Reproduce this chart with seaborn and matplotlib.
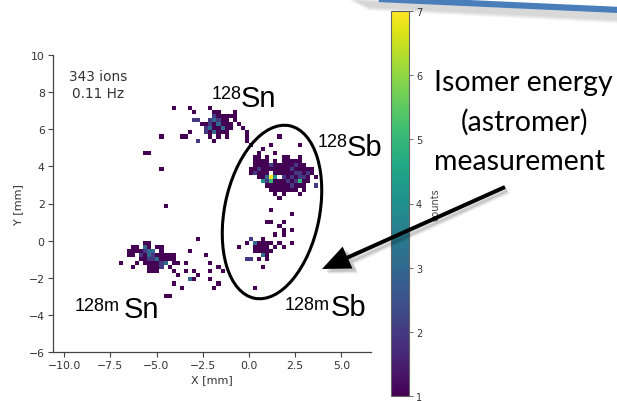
import matplotlib
matplotlib.use("Agg")
import matplotlib.pyplot as plt
import numpy as np
import pandas as pd
import seaborn as sns
from matplotlib.patches import Ellipse, FancyArrow

# ---------------- data: occupied 2D-histogram cells (centre in mm) and counts ----------------
# 128Sn spot (upper left)
sn128_x = [-4.07, -3.19, -2.09,
           -2.97, -1.87, -1.65, -0.77,
           -1.87, -1.65, -1.43, -1.21, -0.99, -0.77,
           -2.97, -2.75, -2.09, -1.87, -1.65, -1.43, -1.21, -0.77,
           -2.53, -2.31, -2.09, -1.87, -1.65, -1.43, -1.21, -0.99, -0.55,
           -2.31, -2.09, -1.87, -1.65, -1.43, -1.21, -0.99, -0.33,
           -3.19, -2.31, -2.09, -1.87, -1.65, -1.43, -1.21, -0.11,
           -3.63, -3.41, -2.09, -1.65, -1.21, -0.11,
           -2.75, -1.87, -0.11,
           0.11]
sn128_y = [7.15, 7.15, 7.15,
           6.93, 6.93, 6.93, 6.93,
           6.71, 6.71, 6.71, 6.71, 6.71, 6.71,
           6.49, 6.49, 6.49, 6.49, 6.49, 6.49, 6.49, 6.49,
           6.27, 6.27, 6.27, 6.27, 6.27, 6.27, 6.27, 6.27, 6.27,
           6.05, 6.05, 6.05, 6.05, 6.05, 6.05, 6.05, 6.05,
           5.83, 5.83, 5.83, 5.83, 5.83, 5.83, 5.83, 5.83,
           5.61, 5.61, 5.61, 5.61, 5.61, 5.61,
           5.39, 5.39, 5.39,
           5.17]
sn128_n = [1, 1, 1,
           1, 1, 1, 1,
           2, 1, 1, 1, 1, 1,
           2, 2, 2, 3, 2, 1, 1, 1,
           1, 1, 2, 1, 3, 1, 1, 1, 1,
           2, 3, 1, 1, 3, 1, 1, 1,
           1, 2, 1, 3, 1, 1, 1, 1,
           1, 1, 1, 1, 1, 1,
           2, 1, 1,
           1]

# 128Sb spot (upper right)
sb128_x = [1.65,
           1.21, 2.75,
           0.77,
           0.55, 1.43,
           0.33, 0.55, 0.99, 1.87, 2.09, 2.75,
           0.33, 0.55, 0.77, 0.99, 1.43, 1.87, 2.09, 2.31, 2.53, 2.75,
           0.33, 0.55, 0.77, 0.99, 1.21, 1.43, 1.65, 1.87, 2.09, 2.31, 2.53, 2.75, 2.97,
           0.11, 0.33, 0.55, 0.77, 0.99, 1.21, 1.43, 1.65, 1.87, 2.09, 2.31, 2.53, 2.75, 2.97, 3.19, 3.41,
           0.11, 0.33, 0.55, 0.77, 0.99, 1.43, 1.65, 1.87, 2.09, 2.31, 2.53, 2.75, 2.97, 3.19, 3.41,
           0.55, 0.77, 0.99, 1.21, 1.43, 1.87, 2.09, 2.31, 2.53, 2.75, 2.97, 3.19, 3.63,
           0.77, 0.99, 1.21, 1.43, 1.65, 1.87, 2.09, 2.31, 2.53, 2.75, 2.97, 3.19,
           0.99, 1.21, 1.43, 1.65, 1.87, 2.09, 2.31, 2.53, 2.75, 2.97, 3.63,
           1.21, 1.43, 1.65, 1.87, 2.09, 2.31, 2.53, 2.97,
           1.43, 1.87, 2.75,
           1.65]
sb128_y = [5.61,
           5.17, 5.17,
           4.95,
           4.73, 4.73,
           4.51, 4.51, 4.51, 4.51, 4.51, 4.51,
           4.29, 4.29, 4.29, 4.29, 4.29, 4.29, 4.29, 4.29, 4.29, 4.29,
           4.07, 4.07, 4.07, 4.07, 4.07, 4.07, 4.07, 4.07, 4.07, 4.07, 4.07, 4.07, 4.07,
           3.85, 3.85, 3.85, 3.85, 3.85, 3.85, 3.85, 3.85, 3.85, 3.85, 3.85, 3.85, 3.85, 3.85, 3.85, 3.85,
           3.63, 3.63, 3.63, 3.63, 3.63, 3.63, 3.63, 3.63, 3.63, 3.63, 3.63, 3.63, 3.63, 3.63, 3.63,
           3.41, 3.41, 3.41, 3.41, 3.41, 3.41, 3.41, 3.41, 3.41, 3.41, 3.41, 3.41, 3.41,
           3.19, 3.19, 3.19, 3.19, 3.19, 3.19, 3.19, 3.19, 3.19, 3.19, 3.19, 3.19,
           2.97, 2.97, 2.97, 2.97, 2.97, 2.97, 2.97, 2.97, 2.97, 2.97, 2.97,
           2.75, 2.75, 2.75, 2.75, 2.75, 2.75, 2.75, 2.75,
           2.53, 2.53, 2.53,
           2.31]
sb128_n = [1,
           1, 1,
           1,
           1, 1,
           1, 1, 1, 1, 1, 1,
           1, 1, 1, 1, 1, 1, 1, 1, 1, 1,
           1, 1, 1, 1, 2, 1, 1, 1, 1, 1, 2, 1, 1,
           1, 1, 2, 1, 1, 1, 1, 1, 1, 1, 2, 1, 1, 1, 1, 1,
           1, 2, 1, 1, 1, 1, 1, 1, 1, 1, 2, 2, 1, 2, 1,
           1, 1, 3, 7, 4, 2, 1, 2, 1, 2, 2, 1, 1,
           4, 2, 5, 1, 1, 1, 2, 1, 2, 5, 1, 1,
           1, 1, 1, 1, 1, 1, 2, 1, 1, 1, 2,
           1, 1, 1, 1, 1, 1, 1, 1,
           1, 1, 1,
           1]

# 128mSb spot (lower right)
sb128m_x = [1.21,
            2.31,
            0.99, 1.21, 1.87,
            1.65,
            1.87, 2.31,
            1.43, 1.87,
            0.11, 0.77,
            -0.11, 0.33, 0.55, 0.77, 0.99, 1.21, 1.65, 2.31,
            -0.55, 0.33, 0.55, 0.77, 0.99, 1.43, 1.87,
            0.33, 0.55, 0.77, 0.99, 1.21,
            0.77, 0.99,
            -0.11, 0.11, 0.55, 0.99,
            0.77,
            0.33]
sb128m_y = [1.65,
            1.43,
            0.99, 0.99, 0.99,
            0.77,
            0.55, 0.55,
            0.33, 0.33,
            0.11, 0.11,
            -0.11, -0.11, -0.11, -0.11, -0.11, -0.11, -0.11, -0.11,
            -0.33, -0.33, -0.33, -0.33, -0.33, -0.33, -0.33,
            -0.55, -0.55, -0.55, -0.55, -0.55,
            -0.77, -0.77,
            -0.99, -0.99, -0.99, -0.99,
            -1.43,
            -2.53]
sb128m_n = [1,
            1,
            1, 1, 1,
            1,
            1, 1,
            1, 1,
            2, 1,
            1, 3, 1, 1, 1, 1, 1, 1,
            1, 1, 1, 1, 1, 1, 1,
            1, 1, 1, 1, 1,
            3, 1,
            2, 2, 1, 1,
            1,
            1]

# 128mSn spot (lower left)
sn128m_x = [-5.61, -5.39,
            -6.27, -6.05, -5.61, -5.39, -4.95, -4.73,
            -6.49, -6.27, -6.05, -5.83, -5.61, -5.39, -5.17, -4.73, -3.19,
            -6.49, -6.27, -5.83, -5.61, -5.39, -5.17, -4.95, -4.73, -4.51, -4.29, -4.07, -2.31,
            -5.83, -5.61, -5.39, -5.17, -4.95, -4.73, -4.51, -4.29, -4.07,
            -6.93, -6.05, -5.61, -5.39, -5.17, -4.95, -4.73, -4.51, -4.07, -3.85, -3.41, -2.09,
            -6.27, -5.39, -5.17, -4.95, -4.73, -4.29, -1.65,
            -5.39, -5.17, -4.95, -4.07, -3.41, -2.97, -2.09, -1.43,
            -3.85, -2.75,
            -3.19, -2.97, -2.09,
            -4.07, -1.65,
            -3.63, -1.87,
            -4.51, -4.29]
sn128m_y = [-0.11, -0.11,
            -0.33, -0.33, -0.33, -0.33, -0.33, -0.33,
            -0.55, -0.55, -0.55, -0.55, -0.55, -0.55, -0.55, -0.55, -0.55,
            -0.77, -0.77, -0.77, -0.77, -0.77, -0.77, -0.77, -0.77, -0.77, -0.77, -0.77, -0.77,
            -0.99, -0.99, -0.99, -0.99, -0.99, -0.99, -0.99, -0.99, -0.99,
            -1.21, -1.21, -1.21, -1.21, -1.21, -1.21, -1.21, -1.21, -1.21, -1.21, -1.21, -1.21,
            -1.43, -1.43, -1.43, -1.43, -1.43, -1.43, -1.43,
            -1.65, -1.65, -1.65, -1.65, -1.65, -1.65, -1.65, -1.65,
            -1.87, -1.87,
            -2.09, -2.09, -2.09,
            -2.31, -2.31,
            -2.53, -2.53,
            -2.97, -2.97]
sn128m_n = [1, 1,
            1, 1, 3, 1, 1, 1,
            1, 1, 1, 1, 2, 3, 3, 1, 1,
            1, 1, 2, 1, 3, 2, 1, 1, 1, 1, 1, 1,
            1, 1, 2, 2, 3, 1, 1, 1, 1,
            1, 1, 1, 1, 1, 1, 2, 3, 1, 1, 1, 1,
            1, 1, 1, 1, 2, 1, 1,
            1, 1, 1, 1, 1, 1, 1, 1,
            1, 1,
            3, 1, 1,
            1, 1,
            1, 1,
            1, 1]

# isolated hits
stray_x = [-4.73, -5.61, -5.39, -4.73, -4.51, -2.75]
stray_y = [5.61, 4.73, 4.73, 3.85, 1.87, 0.11]
stray_n = [1, 1, 1, 1, 1, 1]

x_ticks = [-10.0, -7.5, -5.0, -2.5, 0.0, 2.5, 5.0]
y_ticks = [-6, -4, -2, 0, 2, 4, 6, 8, 10]
cbar_ticks = [1, 2, 3, 4, 5, 6, 7]

# ---------------- figure ----------------
sns.set_style("ticks")
plt.rcParams['font.family'] = ['DejaVu Sans']

W, H = 617, 402
fig = plt.figure(figsize=(W / 100, H / 100), dpi=100)
fig.patch.set_facecolor('white')

ax = fig.add_axes([53 / W, 1 - 353 / H, 318 / W, 297 / H])
cax = fig.add_axes([391 / W, 1 - 397 / H, 18 / W, 385 / H])

parts = [(sn128_x, sn128_y, sn128_n), (sb128_x, sb128_y, sb128_n),
         (sb128m_x, sb128m_y, sb128m_n), (sn128m_x, sn128m_y, sn128m_n),
         (stray_x, stray_y, stray_n)]
df = pd.concat([pd.DataFrame({'x': px, 'y': py, 'n': pn}) for px, py, pn in parts],
               ignore_index=True)

sns.histplot(data=df, x='x', y='y', weights='n', binwidth=0.22,
             binrange=((-10.56, 6.60), (-6.16, 10.12)),
             cmap='viridis', vmin=1, vmax=7, cbar=True, cbar_ax=cax,
             cbar_kws={'ticks': cbar_ticks}, ax=ax)

ax.set_xlim(-10.6, 6.6)
ax.set_ylim(-6, 10)
ax.set_xticks(x_ticks)
ax.set_yticks(y_ticks)
ax.set_xticklabels([f"{v:.1f}".replace('-', '\u2212') for v in x_ticks])
ax.set_yticklabels([f"{v:d}".replace('-', '\u2212') for v in y_ticks])
for s in ['top', 'right']:
    ax.spines[s].set_visible(False)
for s in ['left', 'bottom']:
    ax.spines[s].set_color('#444444')
    ax.spines[s].set_linewidth(0.9)
ax.tick_params(direction='out', length=3.5, width=0.8, colors='#444444',
               labelsize=7.8, labelcolor='#333333', pad=2.5)
ax.set_xlabel('X [mm]', fontsize=8, color='#333333', labelpad=3)
ax.set_ylabel('Y [mm]', fontsize=8, color='#333333', labelpad=4)
ax.text(-8.15, 8.4, "343 ions\n0.11 Hz", ha='center', va='center',
        fontsize=9.8, color='#333333', linespacing=1.25)

cax.tick_params(direction='out', length=3, width=0.6, colors='#555555',
                labelsize=7, labelcolor='#333333', pad=2)
cax.set_ylabel('counts', fontsize=7, color='#444444', labelpad=6)
for sp in cax.spines.values():
    sp.set_edgecolor('#666666')
    sp.set_linewidth(0.8)

# ---------------- slide overlay (pixel coordinates) ----------------
ov = fig.add_axes([0, 0, 1, 1], zorder=10)
ov.set_xlim(0, W)
ov.set_ylim(H, 0)
ov.axis('off')

# decorative blue line with soft shadow
for k in range(10):
    ov.plot([350 + 2 * k, 620], [0.5 + k, 13.5 + k], color='black',
            alpha=0.035, lw=3, solid_capstyle='butt')
ov.plot([335, 620], [-2, 11], color='#4a7ebb', lw=4.5, solid_capstyle='butt')

# ellipse
ov.add_patch(Ellipse((272, 213), width=95, height=176, angle=11.5,
                     fill=False, lw=2.2, ec='black'))

# arrow with soft shadow
for k, a in enumerate([0.12, 0.08, 0.05]):
    ov.add_patch(FancyArrow(505 + 2 + k, 188 + 3 + k, -181, 82, width=4,
                            head_width=24, head_length=28,
                            length_includes_head=True, color='black', alpha=a,
                            lw=0))
ov.add_patch(FancyArrow(505, 188, -183, 82, width=4, head_width=24,
                        head_length=28, length_includes_head=True,
                        color='black', lw=0))

# isotope labels
big = dict(family='Liberation Sans', fontsize=21, color='black', va='baseline', ha='left')
sup = dict(family='Liberation Sans', fontsize=13, color='black', va='baseline', ha='left')
ov.text(212, 99, '128', **sup)
ov.text(241, 107, 'Sn', **big)
ov.text(318, 147, '128', **sup)
ov.text(347, 156, 'Sb', **big)
ov.text(75, 311, '128m', **sup)
ov.text(124, 318, 'Sn', **big)
ov.text(285, 310, '128m', **sup)
ov.text(331, 316, 'Sb', **big)

# callout
note = dict(family='Lato', fontsize=20.5, color='black', va='baseline', ha='center')
ov.text(523, 91, 'Isomer energy', **note)
ov.text(525, 131, '(astromer)', **note)
ov.text(520, 170, 'measurement', **note)

fig.savefig('out.png', dpi=100, facecolor='white')
